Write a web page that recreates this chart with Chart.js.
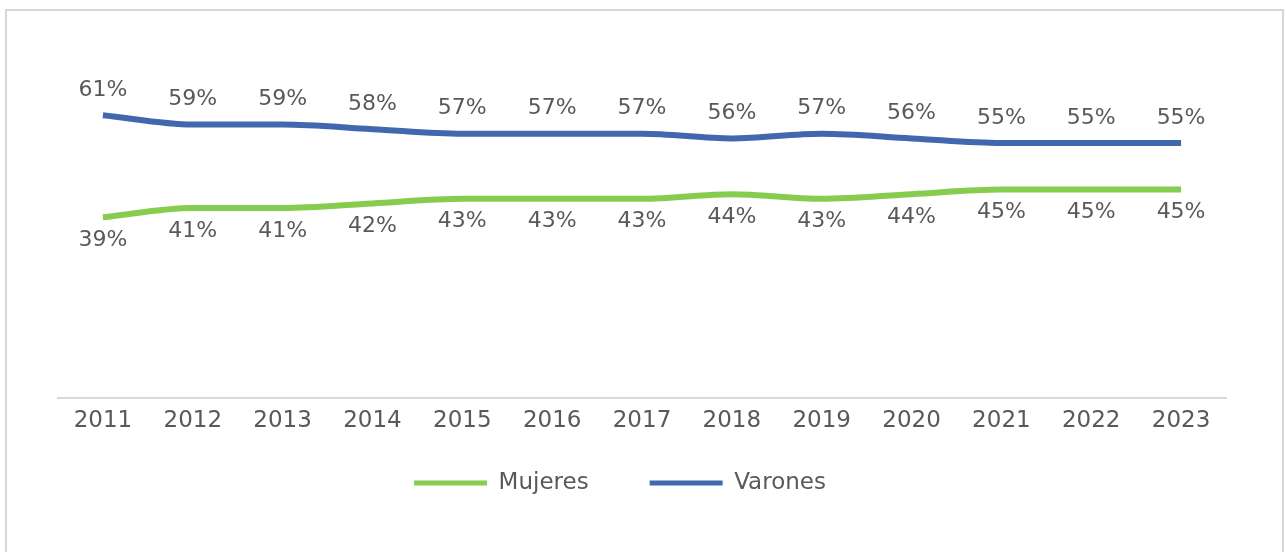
<!DOCTYPE html>
<html>
<head>
<meta charset="utf-8">
<script src="https://cdn.jsdelivr.net/npm/chart.js@4.4.1/dist/chart.umd.min.js"></script>
<style>
  html, body { margin: 0; padding: 0; background: #ffffff; }
  #frame { position: absolute; left: 5px; top: 9px; width: 1279px; height: 600px; border: 2px solid #d6d6d6; box-sizing: border-box; }
  #c { position: absolute; left: 0; top: 0; }
</style>
</head>
<body>
<div id="frame"></div>
<canvas id="c" width="1286" height="552"></canvas>
<script>
// ---- data ----
const years = ['2011','2012','2013','2014','2015','2016','2017','2018','2019','2020','2021','2022','2023'];
const mujeres = [39, 41, 41, 42, 43, 43, 43, 44, 43, 44, 45, 45, 45];
const varones = [61, 59, 59, 58, 57, 57, 57, 56, 57, 56, 55, 55, 55];
const seriesNames = ['Mujeres', 'Varones'];

const TEXT = '#595959';
const FONT = 'DejaVu Sans';

const pointLabels = {
  id: 'pointLabels',
  afterDatasetsDraw(chart) {
    const ctx = chart.ctx;
    chart.data.datasets.forEach((ds, i) => {
      const meta = chart.getDatasetMeta(i);
      ctx.save();
      ctx.font = '22px "' + FONT + '"';
      ctx.fillStyle = TEXT;
      ctx.textAlign = 'center';
      ctx.textBaseline = 'middle';
      meta.data.forEach((pt, j) => {
        const off = ds.labelSide === 'above' ? -25 : 23;
        ctx.fillText(ds.data[j] + '%', pt.x, pt.y + off);
      });
      ctx.restore();
    });
  }
};

const legendPlace = {
  id: 'legendPlace',
  beforeDraw(chart) {
    const lg = chart.legend;
    if (!lg) return;
    const pad = lg.options.labels.padding;
    const fs = lg.options.labels.font.size;
    const h = lg.bottom - lg.top;
    const w = lg.right - lg.left;
    lg.top = 483 - pad - fs / 2;
    lg.bottom = lg.top + h;
    lg.left = 36;
    lg.right = lg.left + w;
  }
};

new Chart(document.getElementById('c'), {
  type: 'line',
  data: {
    labels: years,
    datasets: [
      { label: seriesNames[0], data: mujeres, borderColor: '#86cc4e', backgroundColor: '#86cc4e',
        borderWidth: 6, pointRadius: 0, cubicInterpolationMode: 'monotone', labelSide: 'below', borderCapStyle: 'butt' },
      { label: seriesNames[1], data: varones, borderColor: '#4168ae', backgroundColor: '#4168ae',
        borderWidth: 6, pointRadius: 0, cubicInterpolationMode: 'monotone', labelSide: 'above', borderCapStyle: 'butt' }
    ]
  },
  options: {
    responsive: false,
    animation: false,
    layout: { padding: { left: 58, right: 60, top: 27, bottom: 14 } },
    scales: {
      x: {
        offset: true,
        grid: { display: false, drawTicks: false },
        border: { display: true, color: '#d9d9d9', width: 2 },
        ticks: { color: TEXT, font: { family: FONT, size: 23 }, padding: 9, maxRotation: 0 }
      },
      y: { display: false, min: 0, max: 80 }
    },
    plugins: {
      legend: {
        position: 'bottom',
        labels: {
          color: TEXT,
          font: { family: FONT, size: 23 },
          boxWidth: 73,
          boxHeight: 5,
          padding: 61,
          generateLabels(chart) {
            return chart.data.datasets.map((ds, i) => ({
              text: ds.label, fillStyle: ds.borderColor, strokeStyle: ds.borderColor,
              lineWidth: 0, hidden: false, datasetIndex: i, fontColor: TEXT
            }));
          }
        }
      },
      tooltip: { enabled: false }
    }
  },
  plugins: [pointLabels, legendPlace]
});
</script>
</body>
</html>
